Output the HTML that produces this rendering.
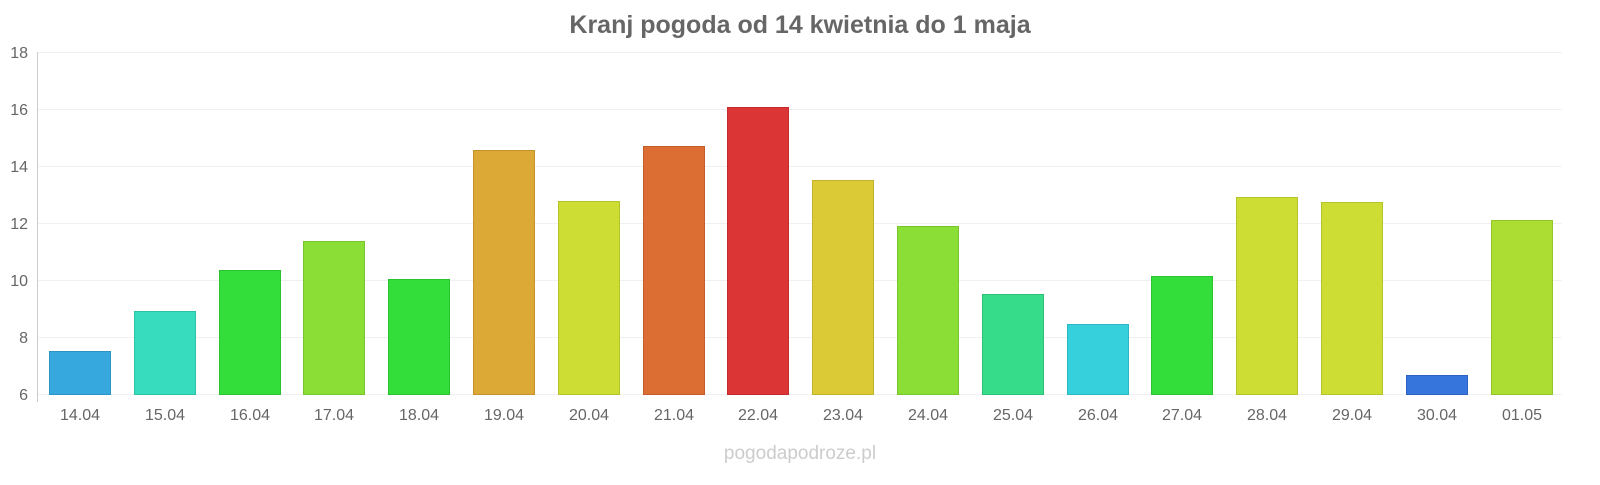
<!DOCTYPE html>
<html><head><meta charset="utf-8"><style>
body{margin:0;background:#fff;}
svg text{font-family:"Liberation Sans",sans-serif;}
</style></head><body>
<svg width="1600" height="480" xmlns="http://www.w3.org/2000/svg">
<text x="800" y="33" text-anchor="middle" font-size="25" font-weight="bold" fill="#666">Kranj pogoda od 14 kwietnia do 1 maja</text>
<g stroke="#f0f0f0" stroke-width="1">
<line x1="37" y1="52.5" x2="1562" y2="52.5"/>
<line x1="37" y1="109.5" x2="1562" y2="109.5"/>
<line x1="37" y1="166.5" x2="1562" y2="166.5"/>
<line x1="37" y1="223.5" x2="1562" y2="223.5"/>
<line x1="37" y1="280.5" x2="1562" y2="280.5"/>
<line x1="37" y1="337.5" x2="1562" y2="337.5"/>
<line x1="37" y1="394.5" x2="1562" y2="394.5"/>
</g>
<line x1="37.5" y1="52" x2="37.5" y2="402" stroke="#ccc"/>
<g font-size="16" fill="#666" text-anchor="end">
<text x="28" y="58">18</text><text x="28" y="115">16</text><text x="28" y="172">14</text>
<text x="28" y="229">12</text><text x="28" y="286">10</text><text x="28" y="343">8</text><text x="28" y="400">6</text>
</g>
<g stroke-width="1">
<rect x="49.5" y="351.5" width="61" height="43" fill="#36a8de" stroke="#2c93c4"/>
<rect x="134.5" y="311.5" width="61" height="83" fill="#36dcbd" stroke="#2cc3a6"/>
<rect x="219.5" y="270.5" width="61" height="124" fill="#33de3a" stroke="#2ac331"/>
<rect x="303.5" y="241.5" width="61" height="153" fill="#8ade36" stroke="#77c42c"/>
<rect x="388.5" y="279.5" width="61" height="115" fill="#33de3a" stroke="#2ac331"/>
<rect x="473.5" y="150.5" width="61" height="244" fill="#dca836" stroke="#c3922c"/>
<rect x="558.5" y="201.5" width="61" height="193" fill="#cddd33" stroke="#b4c32a"/>
<rect x="643.5" y="146.5" width="61" height="248" fill="#dc6e33" stroke="#c35c2a"/>
<rect x="727.5" y="107.5" width="61" height="287" fill="#dc3536" stroke="#c32b2c"/>
<rect x="812.5" y="180.5" width="61" height="214" fill="#dbca36" stroke="#c2b22c"/>
<rect x="897.5" y="226.5" width="61" height="168" fill="#8ade36" stroke="#77c42c"/>
<rect x="982.5" y="294.5" width="61" height="100" fill="#36dc8a" stroke="#2cc377"/>
<rect x="1067.5" y="324.5" width="61" height="70" fill="#36d0dc" stroke="#2cb7c3"/>
<rect x="1151.5" y="276.5" width="61" height="118" fill="#33de3a" stroke="#2ac331"/>
<rect x="1236.5" y="197.5" width="61" height="197" fill="#cddd33" stroke="#b4c32a"/>
<rect x="1321.5" y="202.5" width="61" height="192" fill="#cddd33" stroke="#b4c32a"/>
<rect x="1406.5" y="375.5" width="61" height="19" fill="#3676dc" stroke="#2c63c3"/>
<rect x="1491.5" y="220.5" width="61" height="174" fill="#acdd33" stroke="#96c32a"/>
</g>
<g font-size="16" fill="#666" text-anchor="middle">
<text x="80" y="420">14.04</text><text x="165" y="420">15.04</text><text x="250" y="420">16.04</text>
<text x="334" y="420">17.04</text><text x="419" y="420">18.04</text><text x="504" y="420">19.04</text>
<text x="589" y="420">20.04</text><text x="674" y="420">21.04</text><text x="758" y="420">22.04</text>
<text x="843" y="420">23.04</text><text x="928" y="420">24.04</text><text x="1013" y="420">25.04</text>
<text x="1098" y="420">26.04</text><text x="1182" y="420">27.04</text><text x="1267" y="420">28.04</text>
<text x="1352" y="420">29.04</text><text x="1437" y="420">30.04</text><text x="1522" y="420">01.05</text>
</g>
<text x="800" y="459" text-anchor="middle" font-size="19" fill="#ccc">pogodapodroze.pl</text>
</svg>
</body></html>
